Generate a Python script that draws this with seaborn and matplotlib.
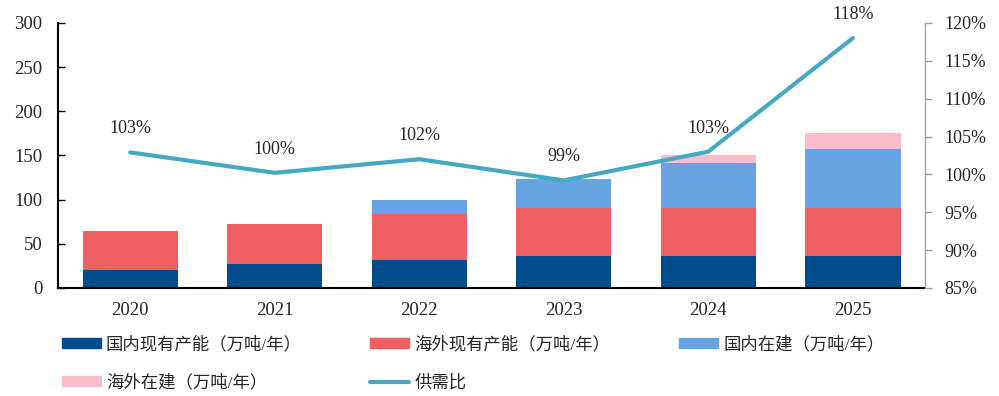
import numpy as np
import pandas as pd
import matplotlib
matplotlib.use('Agg')
import matplotlib.pyplot as plt
import seaborn as sns
from matplotlib.patches import Patch
from matplotlib.lines import Line2D

# 数据
years = ['2020', '2021', '2022', '2023', '2024', '2025']
domestic_existing = [20, 27, 32, 36, 36, 36]      # 国内现有产能
overseas_existing = [44, 45, 52, 54, 54, 54]      # 海外现有产能
domestic_building = [0, 0, 16, 33, 51, 67]        # 国内在建
overseas_building = [0, 0, 0, 0, 9, 18]           # 海外在建
supply_demand = [102.9, 100.2, 102.0, 99.2, 103.0, 118.0]  # 供需比 (%)

labels = ['国内现有产能（万吨/年）', '海外现有产能（万吨/年）', '国内在建（万吨/年）',
          '海外在建（万吨/年）', '供需比']
colors = ['#034d8f', '#ee6063', '#66a3e0', '#fbbdc9']
line_color = '#46a8c3'

sns.set_theme(style='white')
plt.rcParams['font.family'] = ['Liberation Serif', 'Noto Sans CJK SC']

df = pd.DataFrame({'year': years, 'd1': domestic_existing, 'o1': overseas_existing,
                   'd2': domestic_building, 'o2': overseas_building})
# 累计高度，从后往前画出堆叠效果
df['c1'] = df['d1']
df['c2'] = df['c1'] + df['o1']
df['c3'] = df['c2'] + df['d2']
df['c4'] = df['c3'] + df['o2']

fig = plt.figure(figsize=(9.99, 3.96), dpi=100)
ax = fig.add_axes([0.058, 0.273, 0.868, 0.669])

for col, c in zip(['c4', 'c3', 'c2', 'c1'], colors[::-1]):
    sns.barplot(data=df, x='year', y=col, color=c, width=0.66, ax=ax,
                saturation=1, linewidth=0)

ax.set_xlim(-0.5, 5.5)
ax.set_ylim(0, 300)
ax.set_yticks(np.arange(0, 301, 50))
ax.set_xlabel('')
ax.set_ylabel('')
for s in ['top', 'right']:
    ax.spines[s].set_visible(False)
ax.spines['left'].set_color('black')
ax.spines['left'].set_linewidth(1.5)
ax.spines['bottom'].set_color('black')
ax.spines['bottom'].set_linewidth(1.5)
ax.tick_params(axis='y', direction='in', length=5, width=1, color='black',
               pad=11, labelsize=13.5, left=True)
ax.tick_params(axis='x', length=0, pad=10, labelsize=13.5)

ax2 = ax.twinx()
sns.lineplot(x=np.arange(len(years)), y=supply_demand, color=line_color,
             linewidth=3, ax=ax2)
ax2.set_ylim(85, 120)
ax2.set_yticks(np.arange(85, 121, 5))
ax2.set_yticklabels([f'{v}%' for v in range(85, 121, 5)])
for s in ['top', 'left', 'bottom']:
    ax2.spines[s].set_visible(False)
ax2.spines['right'].set_color('#a0a0a0')
ax2.spines['right'].set_linewidth(1)
ax2.tick_params(axis='y', direction='out', length=5, width=1, color='#a0a0a0',
                pad=9, labelsize=13, right=True)
ax2.grid(False)
ax.grid(False)

for i, v in enumerate(supply_demand):
    ax2.annotate(f'{v:.0f}%', (i, v), xytext=(0, 17), textcoords='offset points',
                 ha='center', va='center', fontsize=13)

handles = [Patch(color=c) for c in colors] + [Line2D([], [], color=line_color, lw=3)]
order = [0, 3, 1, 4, 2]
fig.legend([handles[i] for i in order], [labels[i] for i in order],
           loc='upper left', bbox_to_anchor=(0.046, 0.19), ncol=3, frameon=False,
           fontsize=12.5, handlelength=2.25, handleheight=0.5, handletextpad=0.3,
           columnspacing=3.95, labelspacing=1.25)

fig.savefig('out.png', dpi=100)
